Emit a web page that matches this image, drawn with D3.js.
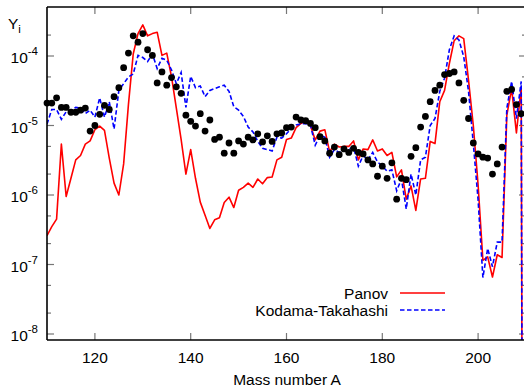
<!DOCTYPE html>
<html><head><meta charset="utf-8">
<script src="https://cdn.jsdelivr.net/npm/d3@7"></script>
<style>
body{margin:0;background:#fff}
svg{display:block}
text{font-family:"Liberation Sans",Arial,Helvetica,sans-serif;fill:#000}
</style>
</head><body>
<svg id="chart" width="524" height="388"></svg>
<script>
// ---- data ----
const massNumbers = [110,111,112,113,114,115,116,117,118,119,120,121,122,123,124,125,126,127,128,129,
  130,131,132,133,134,135,136,137,138,139,140,141,142,143,144,145,146,147,148,149,
  150,151,152,153,154,155,156,157,158,159,160,161,162,163,164,165,166,167,168,169,
  170,171,172,173,174,175,176,177,178,179,180,181,182,183,184,185,186,187,188,189,
  190,191,192,193,194,195,196,197,198,199,200,201,202,203,204,205,206,207,208,209,210];

const panov = [2.6e-7,3.5e-7,4.5e-7,5.4e-6,9.5e-7,1.74e-6,3.2e-6,3.7e-6,5.4e-6,6.0e-6,
  8.7e-6,9.8e-6,8.5e-6,3.4e-6,1.48e-6,1.0e-6,2.8e-6,2.0e-5,1.07e-4,2.1e-4,
  2.8e-4,1.95e-4,2.1e-4,2.2e-4,1.02e-4,1.1e-4,5.0e-5,1.78e-5,6.3e-6,2.0e-6,
  4.5e-6,1.74e-6,7.9e-7,5.1e-7,3.3e-7,4.4e-7,4.7e-7,7.8e-7,9.3e-7,6.6e-7,
  1.17e-6,1.29e-6,1.48e-6,1.29e-6,1.7e-6,1.45e-6,1.78e-6,1.82e-6,3.2e-6,3.5e-6,
  6.3e-6,6.6e-6,9.3e-6,1.07e-5,1.15e-5,1.0e-5,6.2e-6,8.3e-6,8.7e-6,4.2e-6,
  5.4e-6,4.9e-6,5.0e-6,5.0e-6,6.0e-6,3.2e-6,4.6e-6,4.5e-6,6.2e-6,4.3e-6,
  4.6e-6,3.7e-6,4.1e-6,1.82e-6,2.3e-6,8.7e-7,1.35e-6,6.0e-7,1.7e-6,1.74e-6,
  5.9e-6,5.5e-6,2.2e-5,3.2e-5,7.8e-5,1.66e-4,1.95e-4,1.78e-4,4.5e-5,1.0e-5,
  1.4e-6,1.15e-7,1.29e-7,6.6e-8,1.38e-7,1.26e-7,1.41e-5,3.4e-5,7.8e-6,3.6e-5,1e-30];

const kodamaTakahashi = [1.05e-5,1.7e-5,1.7e-5,1.23e-5,1.58e-5,1.66e-5,1.82e-5,1.78e-5,1.48e-5,1.66e-5,
  1.32e-5,2.5e-5,1.32e-5,2.2e-5,8.9e-6,3.2e-5,4.0e-5,5.0e-5,5.5e-5,1.02e-4,
  9.5e-5,8.3e-5,1.07e-4,6.6e-5,9.3e-5,8.7e-5,6.3e-5,4.0e-5,5.8e-5,1.82e-5,
  5.1e-5,3.5e-5,3.7e-5,2.6e-5,3.2e-5,3.4e-5,3.6e-5,3.8e-5,3.1e-5,1.86e-5,
  1.66e-5,1.35e-5,9.5e-6,8.1e-6,5.9e-6,4.7e-6,4.5e-6,4.3e-6,6.8e-6,6.6e-6,
  7.6e-6,9.1e-6,1.02e-5,1.05e-5,1.07e-5,1.02e-5,5.2e-6,7.2e-6,6.8e-6,3.5e-6,
  4.5e-6,4.1e-6,4.4e-6,4.6e-6,4.9e-6,2.6e-6,3.7e-6,3.2e-6,4.1e-6,3.0e-6,
  2.6e-6,2.2e-6,2.3e-6,1.15e-6,1.7e-6,6.3e-7,2.0e-6,1.0e-6,3.2e-6,3.5e-6,
  1.0e-5,1.26e-5,3.1e-5,4.8e-5,1.23e-4,1.95e-4,1.7e-4,9.8e-5,3.1e-5,5.5e-6,
  8.5e-7,6.5e-8,1.7e-7,9.3e-8,2.1e-7,2.1e-7,1.78e-5,4.3e-5,1.26e-5,4.3e-5,1e-30];

const observedMass = massNumbers.slice(0, 100);
const observed = [2.1e-5,2.1e-5,2.5e-5,1.82e-5,1.82e-5,1.55e-5,1.55e-5,1.66e-5,1.78e-5,8.3e-6,
  1.0e-5,1.45e-5,1.95e-5,1.7e-5,2.6e-5,3.5e-5,6.8e-5,1.1e-4,1.95e-4,1.58e-4,
  2.1e-4,1.23e-4,1.02e-4,4.1e-5,5.9e-5,3.8e-5,4.9e-5,3.6e-5,2.9e-5,1.41e-5,
  1.15e-5,9.8e-6,1.48e-5,8.3e-6,1.2e-5,6.3e-6,6.8e-6,4.0e-6,5.6e-6,4.0e-6,
  6.0e-6,5.4e-6,6.8e-6,6.2e-6,7.6e-6,5.8e-6,7.1e-6,5.9e-6,7.6e-6,7.8e-6,
  9.3e-6,9.5e-6,1.32e-5,1.2e-5,1.17e-5,1.07e-5,9.3e-6,6.9e-6,6.0e-6,4.0e-6,
  4.9e-6,3.8e-6,4.6e-6,4.1e-6,4.7e-6,4.1e-6,3.9e-6,3.2e-6,2.8e-6,1.86e-6,
  2.6e-6,1.74e-6,2.9e-6,8.7e-7,1.74e-6,1.66e-6,3.6e-6,4.8e-6,9.5e-6,1.35e-5,
  2.2e-5,3.2e-5,3.8e-5,5.4e-5,5.6e-5,5.9e-5,4.1e-5,2.3e-5,1.26e-5,5.6e-6,
  3.9e-6,3.5e-6,3.4e-6,2.0e-6,2.8e-6,4.9e-6,3.1e-5,3.3e-5,2.0e-5,1.48e-5];

const xTicks = [120,140,160,180,200];
const yMajorTicks = [1e-8,1e-7,1e-6,1e-5,1e-4];
const yMinorTicks = [2e-8,5e-8,2e-7,5e-7,2e-6,5e-6,2e-5,5e-5,2e-4];
const seriesNames = ["Panov","Kodama-Takahashi"];

// ---- layout ----
const L = 47, R = 526, T = 7, B = 340;
const svg = d3.select("#chart");
const x = d3.scaleLinear().domain([110,210]).range([L,R]);
const y = d3.scaleLog().domain([1e-8,1e-4]).range([334,56]);

svg.append("defs").append("clipPath").attr("id","plotclip")
  .append("rect").attr("x",L).attr("y",T).attr("width",R-L).attr("height",B-T);

// ticks
const tickColor = "#777";
const tg = svg.append("g").attr("stroke",tickColor).attr("stroke-width",1.2);
xTicks.forEach(v=>{
  const px = x(v);
  tg.append("line").attr("x1",px).attr("x2",px).attr("y1",B).attr("y2",B-7);
  tg.append("line").attr("x1",px).attr("x2",px).attr("y1",T).attr("y2",T+7);
});
yMajorTicks.forEach(v=>{
  const py = y(v);
  tg.append("line").attr("x1",L).attr("x2",L+7).attr("y1",py).attr("y2",py);
  tg.append("line").attr("x1",R).attr("x2",R-7).attr("y1",py).attr("y2",py);
});
yMinorTicks.forEach(v=>{
  const py = y(v);
  tg.append("line").attr("x1",L).attr("x2",L+4).attr("y1",py).attr("y2",py);
  tg.append("line").attr("x1",R).attr("x2",R-4).attr("y1",py).attr("y2",py);
});

// lines
const line = d3.line().x((d,i)=>x(massNumbers[i])).y(d=>y(d));
const lg = svg.append("g").attr("clip-path","url(#plotclip)");
lg.append("path").datum(panov).attr("d",line)
  .attr("fill","none").attr("stroke","#ff0000").attr("stroke-width",1.6).attr("stroke-linejoin","round");
lg.append("path").datum(kodamaTakahashi).attr("d",line)
  .attr("fill","none").attr("stroke","#0000ff").attr("stroke-width",1.6).attr("stroke-dasharray","4.5,2.5");

// frame
const fg = svg.append("g").attr("stroke","#000").attr("stroke-width",1.6);
fg.append("line").attr("x1",L).attr("x2",L).attr("y1",T).attr("y2",B);
fg.append("line").attr("x1",L).attr("x2",R).attr("y1",B).attr("y2",B);
fg.append("line").attr("x1",L).attr("x2",R).attr("y1",T).attr("y2",T);
fg.append("line").attr("x1",R).attr("x2",R).attr("y1",T).attr("y2",B);

// dots
svg.append("g").selectAll("circle").data(observed).join("circle")
  .attr("cx",(d,i)=>x(observedMass[i])).attr("cy",d=>y(d)).attr("r",3.4).attr("fill","#000");

// tick labels
const fs = 15.5;
svg.append("g").selectAll("text").data(xTicks).join("text")
  .attr("x",d=>x(d)).attr("y",363).attr("text-anchor","middle").attr("font-size",fs).text(d=>d);

yMajorTicks.forEach(v=>{
  const py = y(v);
  const e = Math.round(Math.log10(v));
  const t = svg.append("text").attr("x",38).attr("y",py+7).attr("text-anchor","end").attr("font-size",fs);
  t.append("tspan").text("10");
  t.append("tspan").attr("font-size",11.5).attr("dy",-8).text(String(e));
});

// title Y_i
const yt = svg.append("text").attr("x",8).attr("y",28.5).attr("font-size",fs);
yt.append("tspan").text("Y");
yt.append("tspan").attr("font-size",11.5).attr("dy",4).text("i");

// x label
svg.append("text").attr("x",287).attr("y",385).attr("text-anchor","middle").attr("font-size",fs).text("Mass number A");

// legend
const legY = [293,310];
const legStyles = [{c:"#ff0000",dash:null},{c:"#0000ff",dash:"4.5,2.5"}];
seriesNames.forEach((n,i)=>{
  svg.append("text").attr("x",388).attr("y",legY[i]+5.5).attr("text-anchor","end").attr("font-size",fs).text(n);
  const l = svg.append("line").attr("x1",400).attr("x2",445).attr("y1",legY[i]).attr("y2",legY[i])
    .attr("stroke",legStyles[i].c).attr("stroke-width",1.6);
  if (legStyles[i].dash) l.attr("stroke-dasharray",legStyles[i].dash);
});
</script>
</body></html>
